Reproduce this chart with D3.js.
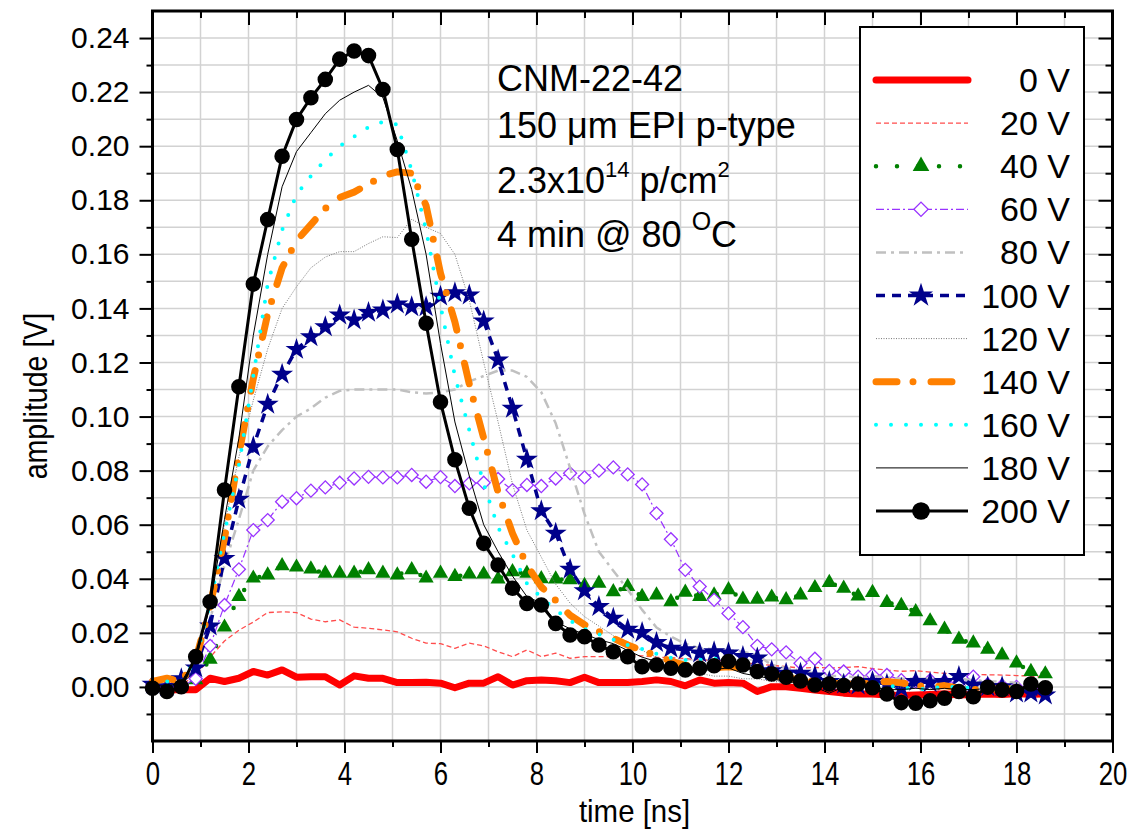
<!DOCTYPE html>
<html lang="en">
<head>
<meta charset="UTF-8" />
<title>CNM-22-42 pulse shapes</title>
<script src="https://d3js.org/d3.v7.min.js"></script>
<style>
  body { margin: 0; background: #fff; }
  svg { display: block; font-family: "Liberation Sans", Arial, sans-serif; }
</style>
</head>
<body>
<svg width="1133" height="829"></svg>
<script>
// sampling times [ns]
const time = [0, 0.3, 0.6, 0.9, 1.2, 1.5, 1.8, 2.1, 2.4, 2.7, 3.0, 3.3, 3.6, 3.9, 4.2, 4.5, 4.8, 5.1, 5.4, 5.7,
  6.0, 6.3, 6.6, 6.9, 7.2, 7.5, 7.8, 8.1, 8.4, 8.7, 9.0, 9.3, 9.6, 9.9, 10.2, 10.5, 10.8, 11.1, 11.4, 11.7,
  12.0, 12.3, 12.6, 12.9, 13.2, 13.5, 13.8, 14.1, 14.4, 14.7, 15.0, 15.3, 15.6, 15.9, 16.2, 16.5, 16.8, 17.1, 17.4, 17.7,
  18.0, 18.3, 18.6];

// amplitudes [V], one array per bias voltage
const v0 = [0.000, -0.001, -0.001, -0.001, 0.0032, 0.0020, 0.0032, 0.0057, 0.0044, 0.0063,
  0.0036, 0.0038, 0.0038, 0.0007, 0.0041, 0.0032, 0.0032, 0.0016, 0.0016, 0.0017,
  0.0014, -0.0003, 0.0014, 0.0014, 0.0038, 0.0007, 0.0023, 0.0026, 0.0023, 0.0016,
  0.0036, 0.0016, 0.0016, 0.0016, 0.0020, 0.0026, 0.0020, 0.0004, 0.0026, 0.0014,
  0.0016, 0.0014, -0.0017, 0.0001, 0.0001, -0.0005, -0.0011, -0.0017, -0.0023, -0.0026,
  -0.0026, -0.0030, -0.0032, -0.0030, -0.0028, -0.0025, -0.0030, -0.0028, -0.0026, -0.0028,
  -0.0025, -0.0027, -0.0026];
const v20 = [0.000, 0.000, 0.001, 0.004, 0.011, 0.017, 0.021, 0.024, 0.0275, 0.0278,
  0.0275, 0.0251, 0.0241, 0.0248, 0.0221, 0.0217, 0.0211, 0.0204, 0.0180, 0.0162,
  0.0160, 0.0143, 0.0162, 0.0152, 0.0130, 0.0112, 0.0137, 0.0112, 0.0125, 0.0106,
  0.0112, 0.0112, 0.0112, 0.0118, 0.0115, 0.0110, 0.0108, 0.0105, 0.0100, 0.0098,
  0.0095, 0.0090, 0.0085, 0.0080, 0.0075, 0.0070, 0.0072, 0.0070, 0.0072, 0.0075,
  0.0068, 0.0062, 0.0058, 0.0060, 0.0055, 0.0050, 0.0048, 0.0046, 0.0045, 0.0044,
  0.0042, 0.0040, 0.0035];
const v40 = [0.001, 0.000, 0.001, 0.0026, 0.0102, 0.0221, 0.0334, 0.0402, 0.0414, 0.0448,
  0.0443, 0.0436, 0.0420, 0.0420, 0.0420, 0.0433, 0.0420, 0.0414, 0.0433, 0.0402,
  0.0420, 0.0408, 0.0417, 0.0417, 0.0399, 0.0426, 0.0420, 0.0400, 0.0399, 0.0396,
  0.0375, 0.0383, 0.0352, 0.0371, 0.0334, 0.0340, 0.0315, 0.0350, 0.0334, 0.0340,
  0.0359, 0.0324, 0.0324, 0.0332, 0.0322, 0.0340, 0.0367, 0.0386, 0.0365, 0.0336,
  0.0349, 0.0312, 0.0301, 0.0278, 0.0244, 0.0213, 0.0176, 0.0162, 0.0139, 0.0118,
  0.0088, 0.0057, 0.0048];
const v60 = [0.001, 0.000, 0.000, 0.003, 0.0152, 0.0303, 0.0435, 0.0580, 0.0617, 0.0685,
  0.0698, 0.0726, 0.0738, 0.0755, 0.0771, 0.0777, 0.0775, 0.0775, 0.0784, 0.0759,
  0.0776, 0.0743, 0.0753, 0.0755, 0.0769, 0.0728, 0.0747, 0.0743, 0.0771, 0.0790,
  0.0775, 0.0800, 0.0812, 0.0786, 0.0749, 0.0642, 0.0546, 0.0433, 0.0371, 0.0322,
  0.0272, 0.0221, 0.0152, 0.0139, 0.0128, 0.0088, 0.0104, 0.0059, 0.0057, 0.0038,
  0.0044, 0.0044, 0.0025, 0.0020, 0.0025, 0.0020, 0.0015, 0.0038, 0.0010, 0.0005,
  0.0000, -0.0005, -0.0010];
const v80 = [0.001, 0.000, 0.001, 0.008, 0.025, 0.045, 0.062, 0.080, 0.089, 0.095,
  0.100, 0.103, 0.107, 0.1095, 0.110, 0.110, 0.110, 0.110, 0.109, 0.1085,
  0.109, 0.110, 0.113, 0.115, 0.117, 0.117, 0.1147, 0.109, 0.0975, 0.081,
  0.064, 0.050, 0.043, 0.036, 0.0285, 0.022, 0.0186, 0.016, 0.0143, 0.014,
  0.0137, 0.013, 0.0118, 0.0081, 0.007, 0.006, 0.005, 0.004, 0.004, 0.0035,
  0.004, 0.0035, 0.003, 0.003, 0.003, 0.0025, 0.003, 0.0025, 0.002, 0.002,
  0.0015, 0.001, 0.001];
const v100 = [0.001, 0.000, 0.003, 0.007, 0.0225, 0.0475, 0.0694, 0.0888, 0.1045, 0.1156,
  0.1248, 0.1295, 0.1332, 0.1375, 0.1357, 0.1385, 0.1394, 0.1416, 0.1406, 0.1406,
  0.1445, 0.1458, 0.1449, 0.1353, 0.1209, 0.1030, 0.0842, 0.0651, 0.0568, 0.0435,
  0.0355, 0.0297, 0.0254, 0.0213, 0.0201, 0.0164, 0.0143, 0.0137, 0.0125, 0.0130,
  0.0125, 0.0112, 0.0107, 0.0060, 0.0050, 0.0050, 0.0040, 0.0020, 0.0010, 0.0007,
  0.0020, 0.0010, -0.0005, 0.0020, 0.0015, 0.0020, 0.0038, 0.0007, 0.0000, 0.0000,
  -0.0023, -0.0023, -0.0030];
const v120 = [0.001, 0.000, 0.002, 0.010, 0.032, 0.060, 0.085, 0.106, 0.125, 0.140,
  0.148, 0.155, 0.159, 0.161, 0.161, 0.164, 0.1665, 0.1662, 0.173, 0.170,
  0.1677, 0.160, 0.143, 0.120, 0.098, 0.075, 0.058, 0.048, 0.038, 0.031,
  0.026, 0.0225, 0.019, 0.016, 0.0135, 0.011, 0.009, 0.006, 0.005, 0.004,
  0.004, 0.003, 0.003, 0.002, 0.002, 0.001, 0.001, 0.000, 0.000, 0.0005,
  0.000, -0.0005, 0.000, 0.000, -0.0005, 0.000, 0.000, 0.000, 0.000, -0.0005,
  0.000, 0.000, 0.000];
const v140 = [0.002, 0.0032, 0.002, 0.010, 0.030, 0.055, 0.086, 0.114, 0.138, 0.155,
  0.165, 0.171, 0.177, 0.181, 0.183, 0.186, 0.189, 0.1905, 0.190, 0.178,
  0.153, 0.135, 0.112, 0.092, 0.072, 0.0568, 0.045, 0.037, 0.032, 0.0265,
  0.023, 0.0205, 0.018, 0.0155, 0.0135, 0.0115, 0.0095, 0.008, 0.0075, 0.007,
  0.0075, 0.007, 0.0055, 0.0045, 0.0035, 0.0025, 0.002, 0.0015, 0.001, 0.001,
  0.0015, 0.002, 0.0015, 0.0005, 0.000, 0.0005, -0.0005, -0.001, -0.0005, -0.001,
  -0.0005, 0.000, -0.0005];
const v160 = [0.001, 0.002, 0.002, 0.010, 0.031, 0.057, 0.082, 0.115, 0.149, 0.169,
  0.182, 0.189, 0.195, 0.200, 0.2035, 0.207, 0.209, 0.208, 0.191, 0.169,
  0.141, 0.115, 0.095, 0.075, 0.059, 0.049, 0.0383, 0.033, 0.0285, 0.0245,
  0.0215, 0.0195, 0.0175, 0.0155, 0.014, 0.0122, 0.0108, 0.010, 0.010, 0.0105,
  0.0095, 0.008, 0.0065, 0.005, 0.004, 0.003, 0.0025, 0.002, 0.0015, 0.0015,
  0.001, 0.0005, 0.000, -0.001, -0.0005, 0.000, 0.000, -0.0005, 0.000, -0.0005,
  0.000, -0.0005, 0.000];
const v180 = [0.001, 0.000, 0.002, 0.010, 0.030, 0.062, 0.092, 0.130, 0.160, 0.185,
  0.198, 0.205, 0.212, 0.217, 0.220, 0.2225, 0.218, 0.202, 0.184, 0.160,
  0.127, 0.098, 0.078, 0.060, 0.050, 0.041, 0.0334, 0.031, 0.0241, 0.0215,
  0.0195, 0.0175, 0.016, 0.0135, 0.011, 0.0094, 0.0068, 0.005, 0.006, 0.0065,
  0.007, 0.005, 0.004, 0.003, 0.002, 0.0015, 0.000, -0.0023, 0.000, 0.0005,
  0.000, -0.001, -0.001, -0.0005, -0.001, -0.0005, -0.001, -0.001, -0.0005, -0.001,
  -0.0005, -0.001, -0.001];
const v200 = [-0.0005, -0.0017, 0.0001, 0.0112, 0.0315, 0.0728, 0.1110, 0.1490, 0.1729, 0.1963,
  0.2099, 0.2179, 0.2247, 0.2322, 0.2352, 0.2335, 0.2210, 0.1988, 0.1656, 0.1345,
  0.1054, 0.0840, 0.0661, 0.0531, 0.0451, 0.0365, 0.0309, 0.0303, 0.0235, 0.0192,
  0.0186, 0.0155, 0.0130, 0.0112, 0.0075, 0.0081, 0.0069, 0.0063, 0.0069, 0.0078,
  0.0094, 0.0081, 0.0057, 0.0048, 0.0036, 0.0022, 0.0007, 0.0011, 0.0005, 0.0011,
  -0.0003, -0.0026, -0.0058, -0.0060, -0.0051, -0.0042, -0.0017, -0.0036, -0.0001, -0.0011,
  -0.0017, 0.0011, -0.0003];

const labels = ["0 V", "20 V", "40 V", "60 V", "80 V", "100 V", "120 V", "140 V", "160 V", "180 V", "200 V"];
const xTicks = [0, 2, 4, 6, 8, 10, 12, 14, 16, 18, 20];
const yTicks = [0, 0.02, 0.04, 0.06, 0.08, 0.10, 0.12, 0.14, 0.16, 0.18, 0.20, 0.22, 0.24];

// line / marker look for each series (same order as labels)
const styles = [
  { values: v0, color: "#ff0000", width: 7, dash: null },
  { values: v20, color: "#ff4c4c", width: 1.3, dash: "5,3" },
  { values: v40, color: "#008000", width: 4.5, dash: "0,21", cap: "round", symbol: d3.symbolTriangle, size: 100, fill: "#008000" },
  { values: v60, color: "#9933ff", width: 1.2, dash: "8,3,2,3", symbol: d3.symbolSquare, size: 85, rotate: 45, fill: "#fff" },
  { values: v80, color: "#c0c0c0", width: 2.5, dash: "10,5,3,5" },
  { values: v100, color: "#00008b", width: 3.5, dash: "9,7", symbol: d3.symbolStar, size: 150, fill: "#00008b" },
  { values: v120, color: "#777777", width: 1, dash: "1,1.5" },
  { values: v140, color: "#ff8000", width: 7, dash: "21,16,0,18", cap: "round" },
  { values: v160, color: "#00ffff", width: 4, dash: "0,15", cap: "round" },
  { values: v180, color: "#000000", width: 1, dash: null },
  { values: v200, color: "#000000", width: 3, dash: null, symbol: d3.symbolCircle, size: 190, fill: "#000" },
];

const svg = d3.select("svg");
const W = 1133, H = 829;
const margin = { top: 11, right: 20.5, bottom: 88, left: 152.5 };

const x = d3.scaleLinear().domain([0, 20]).range([margin.left, W - margin.right]);
const y = d3.scaleLinear().domain([-0.02, 0.25]).range([H - margin.bottom, margin.top]);

// grid every 1 ns and every 0.01 V
const grid = svg.append("g").attr("stroke", "#d2d2d2").attr("stroke-width", 1.5);
grid.selectAll(".gx").data(d3.range(1, 20)).join("line").attr("class", "gx")
  .attr("x1", d => x(d)).attr("x2", d => x(d))
  .attr("y1", y(-0.02)).attr("y2", y(0.25));
grid.selectAll(".gy").data(d3.range(-1, 25).map(i => i / 100)).join("line").attr("class", "gy")
  .attr("x1", x(0)).attr("x2", x(20))
  .attr("y1", d => y(d)).attr("y2", d => y(d));

// curves
const line = d3.line().x((d, i) => x(time[i])).y(d => y(d));
const plot = svg.append("g");
styles.forEach(s => {
  const g = plot.append("g");
  g.append("path")
    .attr("d", line(s.values))
    .attr("fill", "none")
    .attr("stroke", s.color)
    .attr("stroke-width", s.width)
    .attr("stroke-dasharray", s.dash)
    .attr("stroke-linecap", s.cap || "butt")
    .attr("stroke-linejoin", "round");
  if (s.symbol) {
    g.selectAll("path.m").data(s.values).join("path").attr("class", "m")
      .attr("d", d3.symbol(s.symbol, s.size))
      .attr("transform", (d, i) => `translate(${x(time[i])},${y(d)}) rotate(${s.rotate || 0})`)
      .attr("fill", s.fill)
      .attr("stroke", s.fill === "#fff" ? s.color : "none")
      .attr("stroke-width", 1.3);
  }
});

// frame and ticks
const tidy = g => {
  g.select(".domain").remove();
  g.selectAll(".tick line").attr("stroke", "#000").attr("stroke-width", 2);
};
const xMinor = d3.range(1, 20, 2);
const yMinor = d3.range(-1, 25, 2).map(i => i / 100);
const y0 = y(-0.02), y1 = y(0.25), x0 = x(0), x1 = x(20);

svg.append("g").attr("transform", `translate(0,${y0})`)
  .call(d3.axisBottom(x).tickValues(xTicks).tickSize(12).tickPadding(9).tickFormat(d3.format("d")))
  .call(tidy)
  .call(g => g.selectAll("text").attr("font-size", 33).attr("font-family", "Liberation Sans, Arial, sans-serif")
    .attr("fill", "#000").attr("transform", "scale(0.78,1)"));
svg.append("g").attr("transform", `translate(0,${y0})`)
  .call(d3.axisBottom(x).tickValues(xMinor).tickSize(6).tickFormat("")).call(tidy);
svg.append("g").attr("transform", `translate(0,${y1})`)
  .call(d3.axisTop(x).tickValues(xTicks).tickSize(-14).tickFormat("")).call(tidy);
svg.append("g").attr("transform", `translate(0,${y1})`)
  .call(d3.axisTop(x).tickValues(xMinor).tickSize(-7).tickFormat("")).call(tidy);

svg.append("g").attr("transform", `translate(${x0},0)`)
  .call(d3.axisLeft(y).tickValues(yTicks).tickSize(13).tickPadding(10).tickFormat(d3.format(".2f")))
  .call(tidy)
  .call(g => g.selectAll("text").attr("font-size", 30).attr("font-family", "Liberation Sans, Arial, sans-serif").attr("fill", "#000"));
svg.append("g").attr("transform", `translate(${x0},0)`)
  .call(d3.axisLeft(y).tickValues(yMinor).tickSize(6).tickFormat("")).call(tidy);
svg.append("g").attr("transform", `translate(${x1},0)`)
  .call(d3.axisRight(y).tickValues(yTicks).tickSize(-14).tickFormat("")).call(tidy);
svg.append("g").attr("transform", `translate(${x1},0)`)
  .call(d3.axisRight(y).tickValues(yMinor).tickSize(-7).tickFormat("")).call(tidy);

svg.append("rect")
  .attr("x", x0).attr("y", y1).attr("width", x1 - x0).attr("height", y0 - y1)
  .attr("fill", "none").attr("stroke", "#000").attr("stroke-width", 3);

// axis titles
svg.append("text")
  .attr("transform", `translate(${(x0 + x1) / 2 + 2},822) scale(0.92,1)`)
  .attr("text-anchor", "middle").attr("font-size", 32).text("time [ns]");
svg.append("text")
  .attr("transform", `translate(47,${(y0 + y1) / 2 + 20}) rotate(-90) scale(0.84,1)`)
  .attr("text-anchor", "middle").attr("font-size", 34).text("amplitude [V]");

// sample description
const note = svg.append("g").attr("font-size", 36).attr("fill", "#000");
note.append("text").attr("x", 497).attr("y", 91).text("CNM-22-42");
note.append("text").attr("x", 497).attr("y", 138).text("150 μm EPI p-type");
const t3 = note.append("text").attr("x", 497).attr("y", 193);
t3.append("tspan").text("2.3x10");
t3.append("tspan").attr("font-size", 22).attr("dy", -16).text("14");
t3.append("tspan").attr("dy", 16).text(" p/cm");
t3.append("tspan").attr("font-size", 22).attr("dy", -16).text("2");
const t4 = note.append("text").attr("x", 497).attr("y", 247);
t4.append("tspan").text("4 min @ 80 ");
t4.append("tspan").attr("font-size", 25).attr("dy", -17).text("O");
t4.append("tspan").attr("dy", 17).text("C");

// legend
const legend = svg.append("g");
legend.append("rect")
  .attr("x", 860).attr("y", 27).attr("width", 224).attr("height", 528)
  .attr("fill", "#fff").attr("stroke", "#000").attr("stroke-width", 2);
const rowY = d3.scaleLinear().domain([0, 10]).range([80, 511]);
styles.forEach((s, i) => {
  const ly = rowY(i);
  legend.append("line")
    .attr("x1", 876).attr("x2", 968).attr("y1", ly).attr("y2", ly)
    .attr("stroke", s.color).attr("stroke-width", s.width)
    .attr("stroke-dasharray", s.dash)
    .attr("stroke-linecap", s.cap || (s.width > 5 ? "round" : "butt"));
  if (s.symbol) {
    legend.append("path")
      .attr("d", d3.symbol(s.symbol, s.size * (s.symbol === d3.symbolCircle ? 1.3 : 1.2)))
      .attr("transform", `translate(921,${ly}) rotate(${s.rotate || 0})`)
      .attr("fill", s.fill)
      .attr("stroke", s.fill === "#fff" ? s.color : "none")
      .attr("stroke-width", 1.3);
  }
  legend.append("text")
    .attr("x", 1070).attr("y", ly + 12)
    .attr("text-anchor", "end").attr("font-size", 34)
    .text(labels[i]);
});
</script>
</body>
</html>
